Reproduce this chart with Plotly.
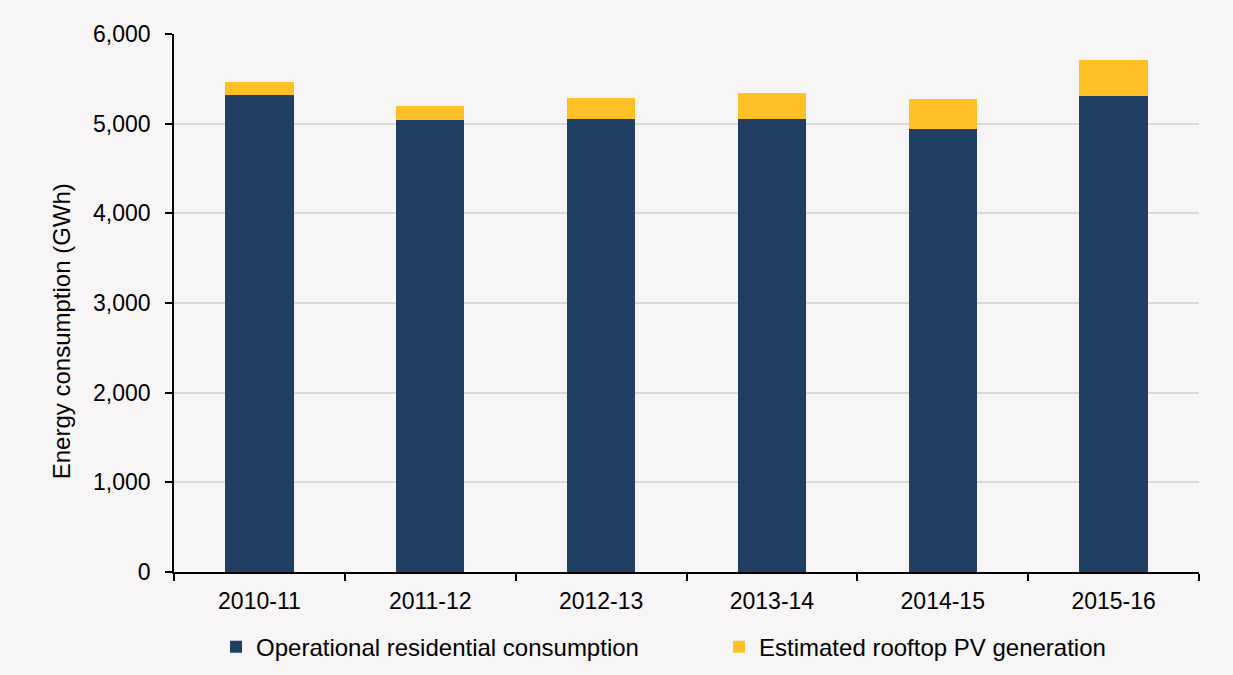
import plotly.graph_objects as go

# Financial years and energy values (GWh)
years = ["2010-11", "2011-12", "2012-13", "2013-14", "2014-15", "2015-16"]
operational = [5320, 5037, 5048, 5048, 4944, 5309]
rooftop_pv = [141, 164, 242, 294, 335, 401]

y_ticks = [0, 1000, 2000, 3000, 4000, 5000, 6000]
y_title = "Energy consumption (GWh)"

fig = go.Figure()
fig.add_trace(go.Bar(
    x=years, y=operational, name="Operational residential consumption",
    marker=dict(color="#203f62", line=dict(width=0)),
))
fig.add_trace(go.Bar(
    x=years, y=rooftop_pv, name="Estimated rooftop PV generation",
    marker=dict(color="#ffc125", line=dict(width=0)),
))

bg = "#f7f5f6"
fig.update_layout(
    barmode="stack",
    bargap=0.6,
    width=1233, height=675,
    margin=dict(l=174, r=34, t=34, b=103, autoexpand=False),
    paper_bgcolor=bg, plot_bgcolor=bg,
    font=dict(family="Liberation Sans, Arial, sans-serif", size=23, color="#000000"),
    showlegend=True,
    legend=dict(orientation="h", x=0.041, xanchor="left", y=-0.098, yanchor="top",
                font=dict(size=24), itemwidth=30, entrywidth=458,
                traceorder="normal", bgcolor="rgba(0,0,0,0)"),
)
fig.update_xaxes(
    type="category", showline=True, linecolor="#000000", linewidth=1.5,
    ticks="outside", tickson="boundaries", ticklen=7, tickcolor="#000000",
    tickwidth=1.5, showgrid=False, tickfont=dict(size=23), ticklabelstandoff=8,
)
fig.update_yaxes(
    range=[0, 6000], tickvals=y_ticks, tickformat=",", showline=True,
    linecolor="#000000", linewidth=1.5, ticks="outside", ticklen=7,
    tickcolor="#000000", tickwidth=1.5, showgrid=True, gridcolor="#d9d9d9",
    gridwidth=1.5, zeroline=False, tickfont=dict(size=23), ticklabelstandoff=10,
)
# Y-axis title, sitting slightly below the plot's vertical centre
fig.add_annotation(
    text=y_title, textangle=-90, xref="paper", yref="paper",
    x=-0.109, y=0.448, xanchor="center", yanchor="middle",
    showarrow=False, font=dict(size=24),
)

fig.write_html("out.html")
